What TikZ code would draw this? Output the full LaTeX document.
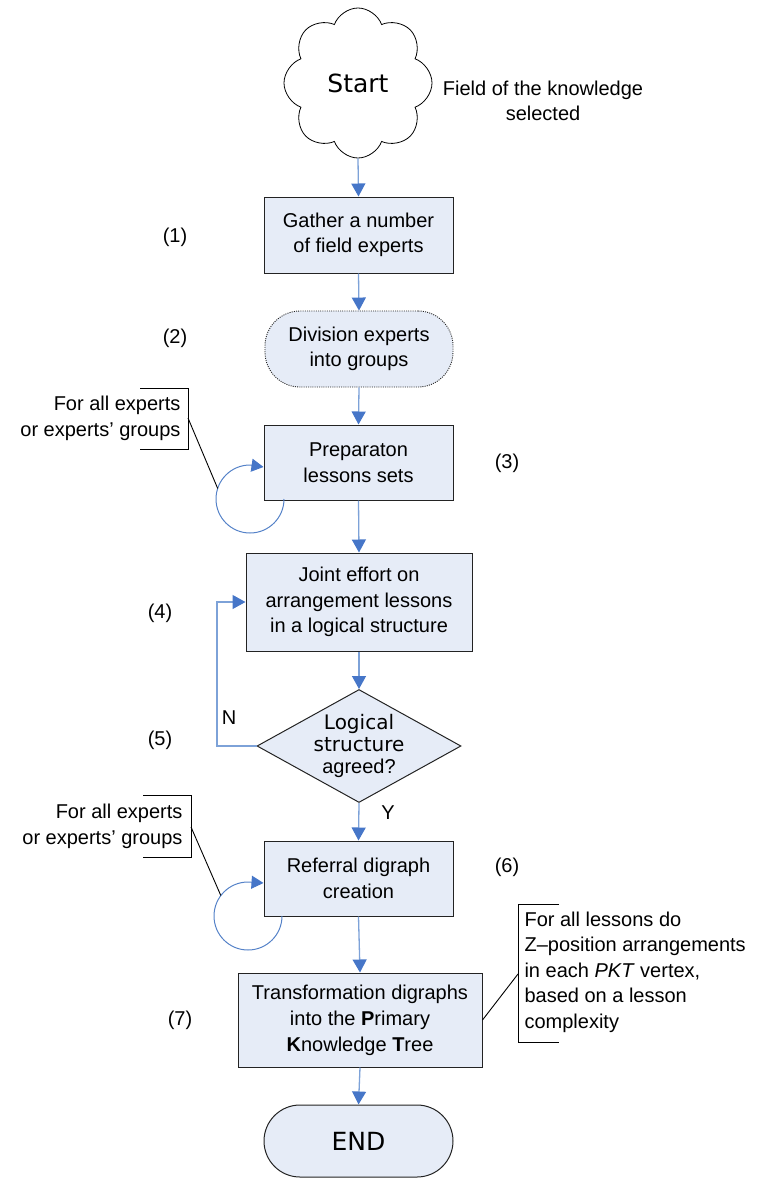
\documentclass[tikz,border=0pt]{standalone}
\usepackage{fontspec}
\setmainfont{Liberation Sans}
\newfontfamily\vfont{DejaVu Sans}
\usetikzlibrary{shapes.geometric,shapes.symbols,arrows.meta}
\definecolor{boxfill}{RGB}{230,236,247}
\definecolor{lineblue}{RGB}{125,162,216}
\definecolor{tipblue}{RGB}{70,118,200}
\definecolor{loopblue}{RGB}{85,130,200}
\definecolor{edge}{RGB}{35,35,35}
\begin{document}
\begin{tikzpicture}[x=1pt,y=-1pt,
  every node/.style={font=\fontsize{20}{25.5}\selectfont},
  proc/.style={draw=edge, line width=1pt, fill=boxfill, align=center, inner sep=0pt},
  flow/.style={draw=lineblue, line width=1.3pt, -{Triangle[length=13pt,width=14pt,color=tipblue]}},
  loopline/.style={draw=loopblue, line width=1pt, -{Triangle[length=12pt,width=13pt,color=tipblue]}},
  note/.style={draw=black, line width=0.9pt},
  numlab/.style={font=\fontsize{20}{24}\selectfont}
]
\useasboundingbox (0,0) rectangle (763,1180);

% start cloud
\node[cloud, cloud puffs=8, cloud puff arc=140, aspect=1, draw=black, line width=0.8pt, fill=white,
      minimum width=148pt, minimum height=150pt, inner sep=0pt,
      font=\vfont\fontsize{25}{30}\selectfont] (start) at (358,83) {Start};
\node[align=center] (field) at (543,101) {Field of the knowledge\\selected};

% process nodes
\node[proc, minimum width=189pt, minimum height=76pt] (b1) at (358.5,235) {Gather a number\\of field experts};
\node[proc, dash pattern=on 1pt off 1.2pt, line width=0.9pt, rounded corners=35pt, minimum width=188pt, minimum height=76pt] (b2) at (359,349) {Division experts\\into groups};
\node[proc, minimum width=189pt, minimum height=75pt] (b3) at (358.5,462.5) {Preparaton\\lessons sets};
\node[proc, minimum width=226pt, minimum height=98pt] (b4) at (359,602) {Joint effort on\\arrangement lessons\\in a logical structure};
\node[diamond, draw=edge, line width=1pt, fill=boxfill, minimum width=204pt, minimum height=113pt, inner sep=0pt] (d) at (359,746) {};
\node[align=center, font=\fontsize{20}{22}\selectfont] (dt) at (d) {{\vfont Logical}\\{\vfont structure}\\agreed?};
\node[proc, minimum width=189pt, minimum height=75pt] (b6) at (358.5,878.5) {Referral digraph\\creation};
\node[proc, minimum width=244pt, minimum height=94pt, font=\fontsize{20}{26}\selectfont] (b7) at (360,1020) {Transformation digraphs\\into the \textbf{P}rimary\\\textbf{K}nowledge \textbf{T}ree};
\node[proc, rounded corners=36pt, minimum width=189pt, minimum height=72pt, font=\vfont\fontsize{25}{30}\selectfont] (e) at (358.5,1141) {END};

% step numbers
\node[numlab] (n1l) at (175,237) {(1)};
\node[numlab] (n2l) at (175,338) {(2)};
\node[numlab] (n3l) at (507,463) {(3)};
\node[numlab] (n4l) at (160,613) {(4)};
\node[numlab] (n5l) at (160,740) {(5)};
\node[numlab] (n6l) at (507,867) {(6)};
\node[numlab] (n7l) at (180,1020) {(7)};

% main flow
\draw[flow] (start.south) -- (b1.north);
\draw[flow] (b1.south) -- (b2.north);
\draw[flow] (b2.south) -- (b3.north);
\draw[flow] (b3.south) -- (b4.north);
\draw[flow] (b4.south) -- (d.north);
\draw[flow] (d.south) -- (b6.north);
\draw[flow] (b6.south) -- (b7.north);
\draw[flow] (b7.south) -- (e.north);

% N loop
\coordinate (nturn) at (217,746);
\draw[flow] (d.west) -- (nturn) |- (b4.west);
\node[numlab] (nlab) at (229,718) {N};
\node[numlab] (ylab) at (388,813) {Y};

% self loops
\coordinate (l1c) at (250,499);
\draw[loopline] (l1c) ++(34,0) arc[start angle=0, end angle=270, radius=34] -- ([yshift=-4.5pt]b3.west);
\coordinate (l2c) at (248,916);
\draw[loopline] (l2c) ++(34,0) arc[start angle=0, end angle=270, radius=34] -- ([yshift=-4.5pt]b6.west);

% annotation 1
\node[anchor=east, align=right, font=\fontsize{20}{26}\selectfont] (a1) at (184,418.5) {For all experts\\or experts’ groups};
\draw[note] (140,388) -- (188,388) -- (188,449) -- (140,449);
\coordinate (a1b) at (188,418);
\coordinate (a1p) at (217.7,488.5);
\draw[note] (a1b) -- (a1p);

% annotation 2
\node[anchor=east, align=right, font=\fontsize{20}{26}\selectfont] (a2) at (186,826) {For all experts\\or experts’ groups};
\draw[note] (143,795) -- (191,795) -- (191,857) -- (143,857);
\coordinate (a2b) at (191,827);
\coordinate (a2p) at (220.8,895.5);
\draw[note] (a2b) -- (a2p);

% annotation 3
\node[anchor=west, align=left, font=\fontsize{20}{25.5}\selectfont] (a3) at (521,972) {For all lessons do\\Z–position arrangements\\in each \textit{PKT} vertex,\\based on a lesson\\complexity};
\draw[note] (559,904) -- (518,904) -- (518,1042) -- (559,1042);
\coordinate (a3b) at (518,974);
\draw[note] (b7.east) -- (a3b);
\end{tikzpicture}
\end{document}
